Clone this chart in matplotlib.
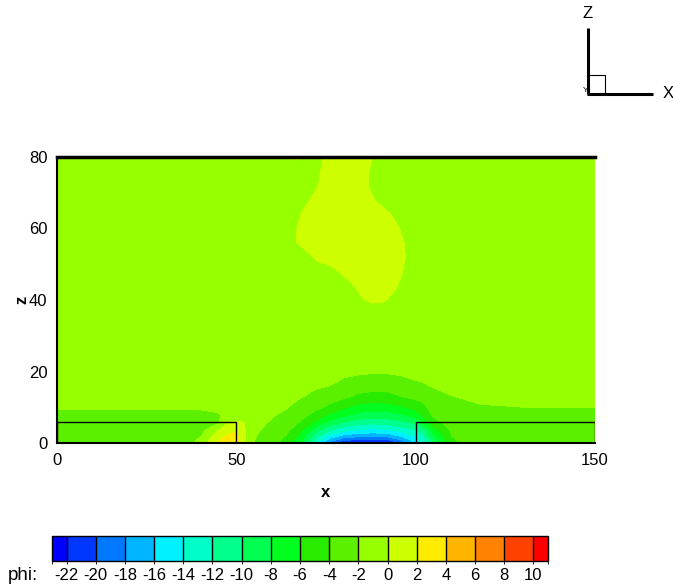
import matplotlib
matplotlib.use("Agg")
import matplotlib.pyplot as plt
import matplotlib.colorbar as mcolorbar
import numpy as np
from matplotlib.colors import ListedColormap, BoundaryNorm
from matplotlib.patches import Rectangle

plt.rcParams['font.family'] = ['Liberation Sans', 'DejaVu Sans']

# contour levels of phi and the flood colour of each band
levels = [-23, -22, -20, -18, -16, -14, -12, -10, -8, -6, -4, -2, 0, 2, 4, 6, 8, 10, 11]
band_colors = ['#0000ff', '#0037ff', '#0078ff', '#00b4ff', '#00f0ff', '#00ffc8',
               '#00ff8c', '#00ff50', '#00ff1e', '#28eb00', '#5af000', '#96ff00',
               '#cdff00', '#ffeb00', '#ffb400', '#ff8200', '#ff4100', '#ff0000']
legend_labels = [-22, -20, -18, -16, -14, -12, -10, -8, -6, -4, -2, 0, 2, 4, 6, 8, 10]

# near-ground part of the field (z <= 25), one column of phi per x station
x_low = [0, 20, 34, 40, 45, 48, 50, 52, 55, 60, 64, 68, 72, 76, 80, 84, 88,
         92, 96, 100, 102, 105, 110, 118, 130, 150]
z_low = [0, 1, 2, 3.5, 5.5, 7.5, 10, 13, 16, 20, 25]
phi_low_cols = [
    [-3, -3, -3, -3, -2.9, -2.6, -1.8, -1.3, -1.1, -1, -1],
    [-3, -3, -3, -3, -2.9, -2.6, -1.8, -1.3, -1.1, -1, -1],
    [-3, -3, -3, -3, -2.9, -2.6, -1.8, -1.3, -1.1, -1, -1],
    [-1.6, -1.8, -2.2, -2.6, -2.8, -2.5, -1.8, -1.3, -1.1, -1, -1],
    [2.1, 1.8, 1.2, 0.1, -2.1, -2.2, -1.7, -1.2, -1.05, -1, -1],
    [3.2, 2.9, 2.3, 1.3, 0.2, -1.4, -1.3, -1.1, -1, -1, -1],
    [3.6, 3.3, 2.6, 1.6, 0.4, -0.9, -1.1, -1, -1, -1, -1],
    [0.5, 0.5, 0.4, 0.3, 0.1, -0.6, -0.9, -1, -1, -1, -1],
    [-2.1, -1.95, -1.85, -1.7, -1.55, -1.4, -1.3, -1.2, -1.1, -1.05, -1],
    [-3.3, -3.1, -2.9, -2.6, -2.2, -1.9, -1.6, -1.4, -1.25, -1.1, -1],
    [-4.8, -4.5, -4.1, -3.6, -3, -2.5, -1.9, -1.6, -1.4, -1.2, -1],
    [-8, -7.3, -6.7, -5.7, -4.3, -3.5, -2.7, -1.9, -1.6, -1.3, -1],
    [-12.9, -12, -11, -9.3, -6.7, -4.8, -3.5, -2.4, -1.8, -1.4, -1],
    [-18.8, -16.6, -14.6, -12, -9, -6.6, -4.4, -3.1, -2, -1.5, -1],
    [-22.2, -19.1, -16.7, -13.5, -10.5, -8, -5.7, -3.6, -2.5, -1.6, -1],
    [-22.9, -20, -17.3, -14.4, -11.4, -9, -6.6, -4.4, -3, -1.7, -1],
    [-22.95, -20.3, -17.6, -14.7, -11.8, -9.4, -7, -4.7, -3.2, -1.8, -1],
    [-22.7, -20, -17.4, -14.4, -11.5, -9.2, -6.8, -4.7, -3.2, -1.8, -1],
    [-20.2, -17.6, -15.7, -13.3, -10.8, -8.6, -6.3, -4, -2.6, -1.75, -1],
    [-15.5, -14.8, -13.8, -12.2, -9.8, -7.4, -5.2, -3.5, -2.25, -1.6, -1],
    [-13.5, -13.2, -12.5, -11, -8, -6, -4.6, -3.3, -2.15, -1.55, -1],
    [-9.5, -9.2, -8.5, -7, -4.8, -3.8, -3.0, -2.45, -1.9, -1.4, -1],
    [-4.3, -4.2, -4, -3.7, -3.3, -3, -2.6, -2.03, -1.7, -1.3, -1],
    [-3, -3, -3, -3, -2.9, -2.6, -2.1, -1.75, -1.45, -1.2, -1],
    [-3, -3, -3, -3, -2.9, -2.6, -2.0, -1.6, -1.3, -1.1, -1],
    [-3, -3, -3, -3, -2.9, -2.6, -2.0, -1.6, -1.3, -1.1, -1],
]

# upper part of the field (z >= 25), one row of phi per z level
x_up = [0, 60, 64, 67, 70, 73, 76, 79, 82, 85, 88, 91, 94, 97, 100, 150]
z_up = [25, 37, 40, 44, 48, 52, 56, 60, 64, 68, 72, 76, 80]
phi_up_rows = [
    [-1, -1, -1, -1, -1, -1, -1, -1, -1, -1, -1, -1, -1, -1, -1, -1],
    [-1, -1, -1, -1, -1, -1, -1, -1, -1, -1, -1, -1, -1, -1, -1, -1],
    [-1, -1, -1, -1, -1, -1, -1, -1, -1, -0.2, 0.4, 0.25, -0.6, -1, -1, -1],
    [-1, -1, -1, -1, -1, -1, -1, -1, -0.3, 0.8, 1, 1, 0.33, -0.67, -1, -1],
    [-1, -1, -1, -1, -1, -1, -0.83, 0.17, 1, 1, 1, 1, 0.8, -0.2, -1, -1],
    [-1, -1, -1, -1, -0.5, 0.5, 1, 1, 1, 1, 1, 1, 1, 0.03, -1, -1],
    [-1, -1, -1, 0.03, 1, 1, 1, 1, 1, 1, 1, 1, 0.93, -0.07, -1, -1],
    [-1, -1, -0.97, 0.03, 1, 1, 1, 1, 1, 1, 1, 1, 0.5, -0.5, -1, -1],
    [-1, -1, -1, -0.33, 0.67, 1, 1, 1, 1, 1, 1, 0.67, -0.33, -1, -1, -1],
    [-1, -1, -1, -1, -0.17, 0.83, 1, 1, 1, 1, 0.17, -0.83, -1, -1, -1, -1],
    [-1, -1, -1, -1, -1, 0.03, 1, 1, 1, 0.57, -0.43, -1, -1, -1, -1, -1],
    [-1, -1, -1, -1, -1, -0.17, 0.83, 1, 1, 0.67, -0.33, -1, -1, -1, -1, -1],
    [-1, -1, -1, 0.3, -1, -0.4, 0.6, 1, 1, 0.93, -0.07, -1, -1, -1, -1, -1],
]

# building blocks on the ground: (x start, x end, height)
buildings = [(0, 50, 6), (100, 150, 6)]

W, H = 673, 585
fig = plt.figure(figsize=(W / 100, H / 100), dpi=100)


def px_axes(left, top, right, bottom):
    return fig.add_axes([left / W, 1 - bottom / H, (right - left) / W, (bottom - top) / H])


cmap = ListedColormap(band_colors)
norm = BoundaryNorm(levels, cmap.N)

ax = px_axes(57, 157, 595, 443)
ax.contourf(x_low, z_low, np.array(phi_low_cols).T, levels=levels, cmap=cmap, norm=norm)
ax.contourf(x_up, z_up, np.array(phi_up_rows), levels=levels, cmap=cmap, norm=norm)
for x0, x1, h in buildings:
    ax.add_patch(Rectangle((x0, 0), x1 - x0, h, fill=False, ec='black', lw=1, zorder=3))

ax.set_xlim(0, 150)
ax.set_ylim(0, 80)
ax.set_xticks([0, 50, 100, 150])
ax.set_yticks([0, 20, 40, 60, 80])
ax.tick_params(length=0, labelsize=12, pad=7)
ax.spines['right'].set_visible(False)
ax.spines['top'].set_linewidth(2.5)
ax.spines['left'].set_linewidth(1.5)
ax.spines['bottom'].set_linewidth(1.5)
ax.set_xlabel('x', fontweight='bold', fontsize=12)
ax.set_ylabel('z', fontweight='bold', fontsize=12)
ax.xaxis.set_label_coords(0.5, -0.173)
ax.xaxis.label.set_va('center')
ax.yaxis.set_label_coords(-0.065, 0.5)
ax.yaxis.label.set_va('center')

# legend bar
cax = px_axes(52, 536, 548, 561)
cb = mcolorbar.ColorbarBase(cax, cmap=cmap, norm=norm, boundaries=levels,
                            orientation='horizontal', spacing='proportional',
                            drawedges=True)
cb.set_ticks([])
cb.outline.set_linewidth(1)
cb.dividers.set_linewidth(1)
for v in legend_labels:
    cax.text(v, -0.6, str(v), transform=cax.get_xaxis_transform(),
             ha='center', va='center', fontsize=12)
fig.text(23 / W, 1 - 576 / H, 'phi:', ha='center', va='center', fontsize=13.5)

# orientation triad
tri = fig.add_axes([0, 0, 1, 1])
tri.set_xlim(0, W)
tri.set_ylim(H, 0)
tri.axis('off')
tri.plot([588, 588], [28, 94], color='black', lw=2.2, solid_capstyle='butt')
tri.plot([587, 653], [94, 94], color='black', lw=2.2, solid_capstyle='butt')
tri.add_patch(Rectangle((588, 75), 17, 19, fill=False, ec='black', lw=0.8))
tri.text(588, 13, 'Z', ha='center', va='center', fontsize=12)
tri.text(668, 94, 'X', ha='center', va='center', fontsize=12)
tri.text(586, 91, 'Y', ha='center', va='center', fontsize=6)

fig.savefig('out.png', dpi=100)
